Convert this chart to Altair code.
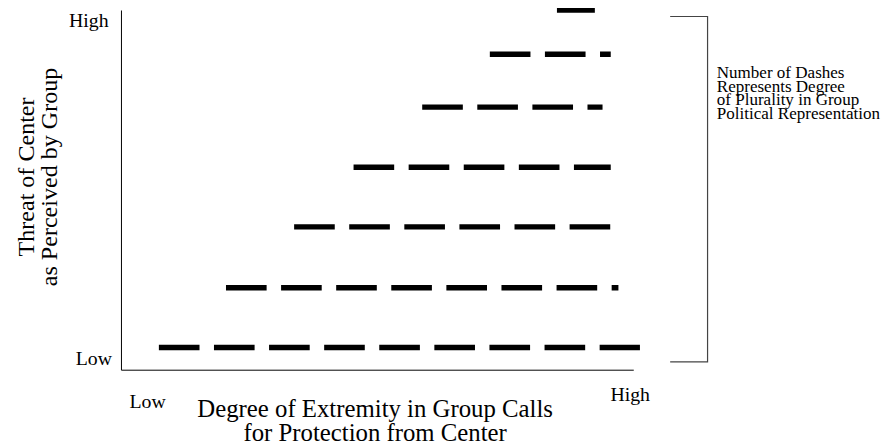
import altair as alt
import pandas as pd

# --- values (axis units 0..100 on both axes) ---
row_y = [6.2, 22.8, 39.7, 56.3, 73.0, 87.7, 100.0]
row_x_start = [7.4, 20.5, 33.8, 45.4, 58.8, 72.0, 85.1]
row_x_end = [101.3, 97.1, 95.6, 95.6, 94.0, 95.6, 92.5]

bracket_x = [107.2, 114.5, 114.5, 107.2]
bracket_y = [98.2, 98.2, 2.2, 2.2]

tick_labels = ["Low", "High"]
x_tick_values = [5.1, 99.3]
y_tick_values = [3.0, 97.0]

x_title = ["Degree of Extremity in Group Calls", "for Protection from Center"]
y_title = ["Threat of Center", "as Perceived by Group"]

note_lines = ["Number of Dashes", "Represents Degree", "of Plurality in Group", "Political Representation"]
note_x = [116.3]
note_y = [81.1]

FONT = "Liberation Serif"

rows = pd.DataFrame({"x": row_x_start, "x_end": row_x_end, "y": row_y})
bracket = pd.DataFrame({"x": bracket_x, "y": bracket_y, "i": list(range(len(bracket_x)))})
note = pd.DataFrame({"x": note_x, "y": note_y, "t": ["\n".join(note_lines)]})

label_expr = f"datum.value < 50 ? '{tick_labels[0]}' : '{tick_labels[1]}'"

x_axis = alt.Axis(
    values=x_tick_values,
    labelExpr=label_expr,
    ticks=False,
    tickSize=0,
    grid=False,
    domainColor="black",
    domainWidth=1,
    labelFont=FONT,
    labelFontSize=20,
    labelColor="black",
    labelBaseline="alphabetic",
    labelAlign="center",
    labelFlush=False,
    labelOverlap=False,
    labelPadding={"condition": {"test": "datum.value < 50", "value": 38.5}, "value": 31.5},
    title=x_title,
    titleFont=FONT,
    titleFontSize=25,
    titleFontWeight="normal",
    titleColor="black",
    titleLineHeight=24.3,
    titleBaseline="alphabetic",
    titleAlign="center",
    titleX=256,
    titleY=47,
)

y_axis = alt.Axis(
    values=y_tick_values,
    labelExpr=label_expr,
    ticks=False,
    tickSize=0,
    grid=False,
    domainColor="black",
    domainWidth=1,
    labelFont=FONT,
    labelFontSize=20,
    labelColor="black",
    labelBaseline="middle",
    labelAlign="right",
    labelFlush=False,
    labelOverlap=False,
    labelPadding={"condition": {"test": "datum.value < 50", "value": 9.5}, "value": 13},
    title=y_title,
    titleFont=FONT,
    titleFontSize=24.3,
    titleFontWeight="normal",
    titleColor="black",
    titleLineHeight=23,
    titleAngle=270,
    titleBaseline="alphabetic",
    titleAlign="center",
    titleX=-88,
    titleY=168,
)

xs = alt.Scale(domain=[0, 100], nice=False, zero=False)
ys = alt.Scale(domain=[0, 100], nice=False, zero=False)

x_enc = alt.X("x:Q", scale=xs, axis=x_axis)
y_enc = alt.Y("y:Q", scale=ys, axis=y_axis)

dashes = alt.Chart(rows).mark_rule(
    color="black", strokeWidth=5.5, strokeDash=[41, 14.6], strokeCap="butt"
).encode(x=x_enc, x2="x_end:Q", y=y_enc)

brace = alt.Chart(bracket).mark_line(color="#444444", strokeWidth=1.2).encode(
    x=x_enc, y=y_enc, order="i:Q"
)

note_text = alt.Chart(note).mark_text(
    align="left", baseline="alphabetic", font=FONT, fontSize=17.2,
    lineHeight=13.8, lineBreak="\n", color="black"
).encode(x=x_enc, y=y_enc, text="t:N")

chart = alt.layer(dashes, brace, note_text).properties(
    width=517,
    height=363,
    autosize=alt.AutoSizeParams(type="none"),
    padding={"left": 114, "top": 0, "right": 251, "bottom": 77},
    background="white",
).configure_view(stroke=None)

chart.save("out.html", embed_options={"renderer": "svg", "actions": False})
